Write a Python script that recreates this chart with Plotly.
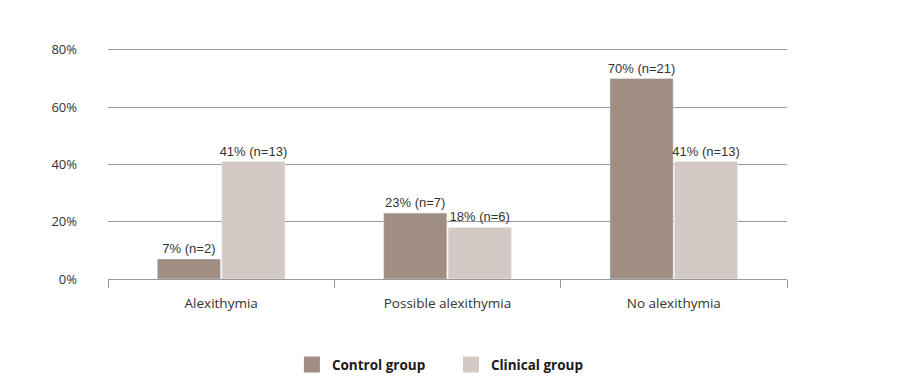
import plotly.graph_objects as go

categories = ["Alexithymia", "Possible alexithymia", "No alexithymia"]
control_values = [7, 23, 70]
clinical_values = [41, 18, 41]
control_labels = ["7% (n=2)", "23% (n=7)", "70% (n=21)"]
clinical_labels = ["41% (n=13)", "18% (n=6)", "41% (n=13)"]
y_ticks = [0, 20, 40, 60, 80]
y_tick_labels = ["0%", "20%", "40%", "60%", "80%"]

control_color = "#a08e83"
clinical_color = "#d4c9c4"
font_family = "Open Sans"
label_font = "Liberation Sans, Arial, sans-serif"

fig = go.Figure()
fig.add_trace(go.Bar(x=categories, y=control_values, text=control_labels,
                     textposition="outside", marker_color=control_color,
                     name="Control group", showlegend=False, cliponaxis=False,
                     constraintext="none",
                     textfont=dict(size=13, color="#333333", family=label_font)))
fig.add_trace(go.Bar(x=categories, y=clinical_values, text=clinical_labels,
                     textposition="outside", marker_color=clinical_color,
                     name="Clinical group", showlegend=False, cliponaxis=False,
                     constraintext="none",
                     textfont=dict(size=13, color="#333333", family=label_font)))
for name, col in [("Control group", control_color), ("Clinical group", clinical_color)]:
    fig.add_trace(go.Scatter(x=[None], y=[None], mode="markers", name=name,
                             marker=dict(symbol="square", size=18, color=col)))

# page body has an 8px margin: figure is offset by (8, 8)
W, H = 881, 367
fig.update_layout(
    width=W, height=H,
    margin=dict(l=100, r=W - 779, t=39, b=H - 271, autoexpand=False),
    paper_bgcolor="white", plot_bgcolor="white",
    font=dict(family=font_family, size=13, color="#333333"),
    barmode="group", bargap=0.43, bargroupgap=0.02,
    showlegend=True,
    legend=dict(orientation="h", x=0.505, xanchor="center", y=-0.37, yanchor="middle",
                font=dict(size=13.5, color="#1a1a1a", family="Open Sans", weight="bold"),
                itemsizing="trace", entrywidth=114, entrywidthmode="pixels",
                tracegroupgap=0, traceorder="normal"),
)
fig.update_xaxes(showline=True, linecolor="#999999", linewidth=1,
                 ticks="outside", tickson="boundaries", ticklen=8, tickcolor="#999999",
                 showgrid=False, ticklabelstandoff=12,
                 tickfont=dict(size=13.5, color="#333333"))
fig.update_yaxes(range=[0, 81], tickvals=y_ticks, ticktext=y_tick_labels,
                 showgrid=True, gridcolor="#999999", gridwidth=1, zeroline=False,
                 showline=False, ticks="", ticklabelstandoff=30,
                 tickfont=dict(size=13, color="#333333"))

fig.write_html("out.html")
